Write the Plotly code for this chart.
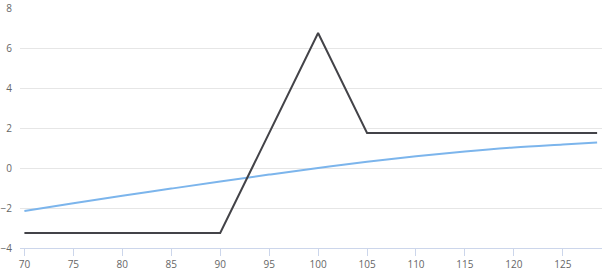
import plotly.graph_objects as go

# Payoff line (black)
payoff_x = [70, 90, 100, 105, 128.5]
payoff_y = [-3.25, -3.25, 6.75, 1.75, 1.75]

# Smooth curve (blue)
curve_x = [70, 75, 80, 85, 90, 95, 100, 105, 110, 115, 120, 125, 128.5]
curve_y = [-2.15, -1.76, -1.39, -1.03, -0.68, -0.33, 0.0, 0.31, 0.59, 0.83, 1.03, 1.18, 1.28]

x_ticks = [70, 75, 80, 85, 90, 95, 100, 105, 110, 115, 120, 125]
y_ticks = [-4, -2, 0, 2, 4, 6, 8]

fig = go.Figure()
fig.add_trace(go.Scatter(x=curve_x, y=curve_y, mode="lines",
                         line=dict(color="#7cb5ec", width=2, shape="spline"),
                         showlegend=False, hoverinfo="skip"))
fig.add_trace(go.Scatter(x=payoff_x, y=payoff_y, mode="lines",
                         line=dict(color="#434348", width=2),
                         showlegend=False, hoverinfo="skip"))

fig.update_layout(
    width=604, height=270,
    margin=dict(l=20, r=2, t=8, b=22),
    paper_bgcolor="white", plot_bgcolor="white",
    font=dict(family="Open Sans, sans-serif", size=10, color="#666666"),
    xaxis=dict(range=[69.55, 129.0], tickvals=x_ticks, showgrid=False,
               showline=True, linecolor="#ccd6eb", linewidth=1,
               ticks="outside", ticklen=7, tickcolor="#ccd6eb", tickwidth=1,
               zeroline=False, automargin=False,
               tickfont=dict(family="Open Sans, sans-serif", size=10, color="#666666")),
    yaxis=dict(range=[-4, 8], tickvals=y_ticks, showgrid=True,
               gridcolor="#e6e6e6", gridwidth=1, zeroline=False,
               showline=False, ticks="outside", ticklen=5,
               tickcolor="rgba(0,0,0,0)", automargin=False,
               tickfont=dict(family="Open Sans, sans-serif", size=10, color="#666666")),
)

fig.write_html("out.html")
